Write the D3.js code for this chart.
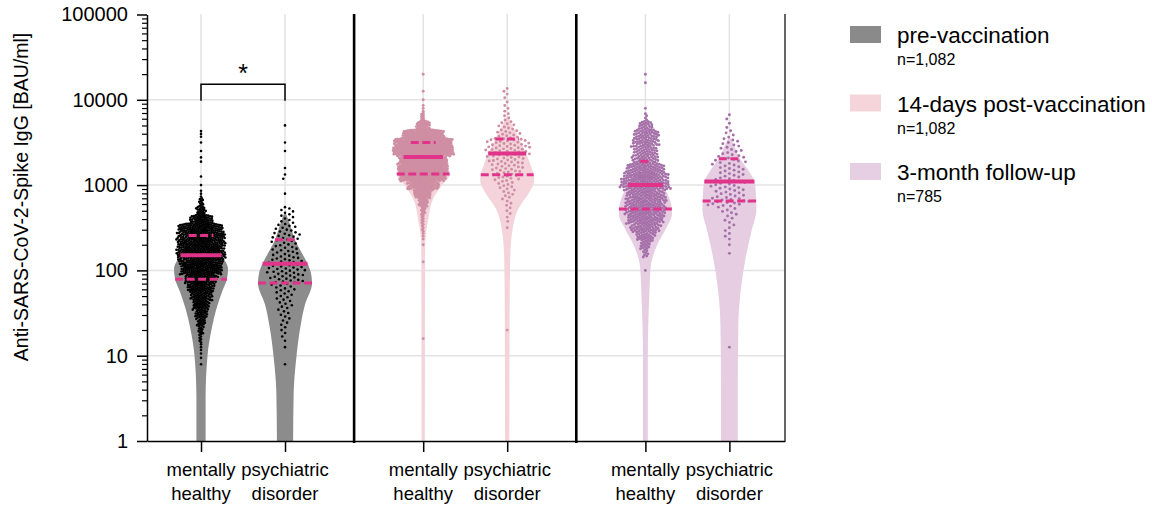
<!DOCTYPE html>
<html>
<head>
<meta charset="utf-8">
<script src="https://cdn.jsdelivr.net/npm/d3@7"></script>
<style>
  body { margin: 0; background: #fff; }
  text { font-family: "Liberation Sans", Arial, sans-serif; }
</style>
</head>
<body>
<svg id="chart"></svg>
<script>
var svgWidth = 1152;
var svgHeight = 505;

// phases and groups
var phases = ["pre-vaccination", "14-days post-vaccination", "3-month follow-up"];
var phaseN = ["n=1,082", "n=1,082", "n=785"];
var groupLines = [["mentally", "healthy"], ["psychiatric", "disorder"]];
var yTicks = [1, 10, 100, 1000, 10000, 100000];

// log10 bin centres (BAU/ml) used to count the dots
var binLogs = [0.9, 1.0, 1.1, 1.2, 1.3, 1.4, 1.5, 1.6, 1.7, 1.8,
               1.9, 2.0, 2.1, 2.2, 2.3, 2.4, 2.5, 2.6, 2.7, 2.8,
               2.9, 3.0, 3.1, 3.2, 3.3, 3.4, 3.5, 3.6, 3.7, 3.8,
               3.9, 4.0, 4.1, 4.2, 4.3];

var preHealthyCounts  = [1,2,3,6,11,18,26,34,44,56, 68,88,92,102,100,100,96,50,20,10, 3,1,1,0,2,1,1,3,0,0, 0,0,0,0,0];
var prePsychCounts    = [1,0,1,2,3,4,5,6,7,9, 14,16,14,11,10,12,9,6,6,0, 1,0,2,1,0,1,1,0,1,0, 0,0,0,0,0];
var postHealthyCounts = [0,0,0,1,0,0,0,0,0,0, 0,0,1,0,1,3,5,6,10,22, 40,71,110,120,118,145,140,100,32,8, 3,1,1,0,1];
var postPsychCounts   = [0,0,0,0,1,0,0,0,0,0, 0,0,0,0,0,0,1,2,3,4, 6,8,12,15,17,22,20,12,8,4, 3,2,3,0,0];
var m3HealthyCounts   = [0,0,0,0,0,0,0,0,0,0, 0,1,0,8,15,28,42,52,58,57, 54,68,66,55,35,34,36,34,20,4, 1,0,0,1,1];
var m3PsychCounts     = [0,0,1,0,0,0,0,0,0,0, 0,0,0,1,1,3,3,4,6,14, 11,12,10,10,11,8,7,4,2,2, 0,0,0,0,0];

// violin outline: [log10 value, relative density 0-100]
var preHealthyViolin  = [[0,17],[0.5,17],[1.0,24],[1.34,41],[1.54,56],[1.75,78],[1.9,96],[2.02,100],[2.18,76],[2.41,46],[2.6,19],[2.75,6],[2.85,0]];
var prePsychViolin    = [[0,30],[0.56,32],[0.95,41],[1.34,57],[1.6,74],[1.85,100],[1.97,96],[2.08,83],[2.2,63],[2.36,37],[2.5,22],[2.62,9],[2.69,0]];
var postHealthyViolin = [[0,6],[2.2,7],[2.35,8],[2.6,19],[2.84,37],[2.99,67],[3.13,98],[3.2,94],[3.33,73],[3.5,46],[3.65,22],[3.8,7],[3.95,0]];
var postPsychViolin   = [[0,8],[1.5,9],[2.13,11],[2.52,22],[2.72,41],[2.91,81],[3.05,100],[3.12,98],[3.25,85],[3.37,70],[3.54,44],[3.68,22],[3.81,0]];
var m3HealthyViolin   = [[0,9],[1.0,9],[1.74,15],[2.05,20],[2.28,41],[2.52,81],[2.65,98],[2.72,98],[2.84,89],[3.0,65],[3.14,37],[3.28,19],[3.5,7],[3.7,0]];
var m3PsychViolin     = [[0,31],[0.56,31],[1.34,33],[1.74,41],[2.13,59],[2.45,81],[2.72,100],[2.81,99],[2.99,96],[3.04,93],[3.19,67],[3.31,39],[3.45,19],[3.58,0]];

// quartiles [Q1, median, Q3] in BAU/ml
var preHealthyQ  = [79, 151, 257];
var prePsychQ    = [71, 120, 229];
var postHealthyQ = [1350, 2140, 3160];
var postPsychQ   = [1320, 2340, 3470];
var m3HealthyQ   = [525, 1000, 1900];
var m3PsychQ     = [650, 1100, 2040];

var groups = [
  {phase: 0, grp: 0, counts: preHealthyCounts,  violin: preHealthyViolin,  q: preHealthyQ},
  {phase: 0, grp: 1, counts: prePsychCounts,    violin: prePsychViolin,    q: prePsychQ},
  {phase: 1, grp: 0, counts: postHealthyCounts, violin: postHealthyViolin, q: postHealthyQ},
  {phase: 1, grp: 1, counts: postPsychCounts,   violin: postPsychViolin,   q: postPsychQ},
  {phase: 2, grp: 0, counts: m3HealthyCounts,   violin: m3HealthyViolin,   q: m3HealthyQ},
  {phase: 2, grp: 1, counts: m3PsychCounts,     violin: m3PsychViolin,     q: m3PsychQ}
];

var violinFill = ["#8c8c8c", "#f4d4da", "#e6cde2"];
var legendFill = ["#8a8a8a", "#f5d5da", "#e6cee3"];
var dotFill = ["#000000", "#cf8ea3", "#a56fa8"];
var lineColor = "#e2338a";
// swarm spacing per group [phase][grp]
var dotSpacing = [[2.0, 4.6], [1.9, 4.3], [2.45, 5.0]];
var dotRadius = [1.3, 1.45, 1.45];

var phaseGap = 2.645;
var slotOf = function(g) { return g.phase * phaseGap + g.grp; };

var svg = d3.select("#chart")
  .attr("width", svgWidth)
  .attr("height", svgHeight);

var x = d3.scaleLinear().domain([-0.643, 6.952]).range([147, 785]);
var y = d3.scaleLog().domain([1, 100000]).range([441, 14.5]);
var w = d3.scaleLinear().domain([0, 100]).range([0, 27]);

// grid
var grid = svg.append("g");
grid.selectAll(".hg").data([10, 100, 1000, 10000]).enter().append("line")
  .attr("x1", 147).attr("x2", 785)
  .attr("y1", d => y(d)).attr("y2", d => y(d))
  .attr("stroke", "#e3e3e3").attr("stroke-width", 1.5);
grid.selectAll(".vg").data(groups).enter().append("line")
  .attr("x1", d => x(slotOf(d))).attr("x2", d => x(slotOf(d)))
  .attr("y1", 14).attr("y2", 441)
  .attr("stroke", "#e3e3e3").attr("stroke-width", 1.5);

// violins
groups.forEach(function(g) {
  var cx = x(slotOf(g));
  var area = d3.area()
    .curve(d3.curveMonotoneY)
    .y(d => y(Math.pow(10, d[0])))
    .x0(d => cx - w(d[1]))
    .x1(d => cx + w(d[1]));
  svg.append("path")
    .datum(g.violin)
    .attr("d", area)
    .attr("fill", violinFill[g.phase]);
});

// beeswarm dots
function swarm(pts, d) {
  var placed = [];
  var lo = 0;
  pts.forEach(function(p, idx) {
    while (lo < placed.length && placed[lo].py < p.py - d) lo++;
    var ivs = [];
    for (var k = lo; k < placed.length; k++) {
      var dy = placed[k].py - p.py;
      var h = d * d - dy * dy;
      if (h <= 0) continue;
      var dx = Math.sqrt(h);
      ivs.push([placed[k].dx - dx, placed[k].dx + dx]);
    }
    var cands = [0];
    ivs.forEach(function(iv) { cands.push(iv[0], iv[1]); });
    var sgn = idx % 2 ? 1 : -1;
    cands.sort(function(a, b) { return Math.abs(a) - Math.abs(b) || sgn * (a - b); });
    var best = 0;
    for (var c = 0; c < cands.length; c++) {
      var v = cands[c];
      var ok = ivs.every(function(iv) { return v <= iv[0] + 1e-6 || v >= iv[1] - 1e-6; });
      if (ok) { best = v; break; }
    }
    p.dx = best;
    placed.push(p);
  });
  return pts;
}

groups.forEach(function(g) {
  var pts = [];
  g.counts.forEach(function(n, i) {
    for (var k = 0; k < n; k++) {
      var lv = binLogs[i] - 0.05 + (k + 0.5) / n * 0.1;
      pts.push({value: Math.pow(10, lv)});
    }
  });
  pts.forEach(p => { p.py = y(p.value); });
  pts.sort((a, b) => a.py - b.py);
  swarm(pts, dotSpacing[g.phase][g.grp]);
  var cx = x(slotOf(g));
  svg.append("g").selectAll("circle").data(pts).enter().append("circle")
    .attr("cx", d => cx + d.dx)
    .attr("cy", d => d.py)
    .attr("r", dotRadius[g.phase])
    .attr("fill", dotFill[g.phase]);
});

// median and quartile lines
groups.forEach(function(g) {
  var cx = x(slotOf(g));
  var dens = d3.scaleLinear()
    .domain(g.violin.map(d => d[0]))
    .range(g.violin.map(d => d[1]))
    .clamp(true);
  g.q.forEach(function(v, i) {
    var hw = w(dens(Math.log10(v)));
    svg.append("line")
      .attr("x1", cx - hw).attr("x2", cx + hw)
      .attr("y1", y(v)).attr("y2", y(v))
      .attr("stroke", lineColor)
      .attr("stroke-width", i === 1 ? 4 : 3)
      .attr("stroke-dasharray", i === 1 ? null : "8,3.5");
  });
});

// axes
var leftAxis = d3.axisLeft(y)
  .tickValues(yTicks)
  .tickFormat(d3.format("d"))
  .tickSize(10)
  .tickSizeOuter(0)
  .tickPadding(9);
var yAxisG = svg.append("g").attr("transform", "translate(147,0)").call(leftAxis);
yAxisG.selectAll("text").attr("font-size", 20).attr("fill", "#000")
  .attr("font-family", "Liberation Sans, Arial, sans-serif");
yAxisG.selectAll("path, line").attr("stroke", "#000").attr("stroke-width", 1.5);

var minorTicks = [];
yTicks.slice(0, -1).forEach(function(t) {
  for (var m = 2; m <= 9; m++) minorTicks.push(t * m);
});
var minorAxis = d3.axisLeft(y).tickValues(minorTicks).tickFormat("").tickSize(5).tickSizeOuter(0);
var minorG = svg.append("g").attr("transform", "translate(147,0)").call(minorAxis);
minorG.select(".domain").remove();
minorG.selectAll("line").attr("stroke", "#000").attr("stroke-width", 1.2);

var bottomAxis = d3.axisBottom(x)
  .tickValues(groups.map(slotOf))
  .tickFormat("")
  .tickSize(11)
  .tickSizeOuter(0);
var xAxisG = svg.append("g").attr("transform", "translate(0,441)").call(bottomAxis);
xAxisG.selectAll("path, line").attr("stroke", "#000").attr("stroke-width", 1.5);

// panel separators and right border
[(1 + phaseGap) / 2, (1 + phaseGap) / 2 + phaseGap].forEach(function(s) {
  svg.append("line")
    .attr("x1", x(s)).attr("x2", x(s))
    .attr("y1", 14).attr("y2", 443)
    .attr("stroke", "#000").attr("stroke-width", 2.6);
});
svg.append("line")
  .attr("x1", 785).attr("x2", 785)
  .attr("y1", 14).attr("y2", 441)
  .attr("stroke", "#333").attr("stroke-width", 1.5);

// category labels
groups.forEach(function(g) {
  var t = svg.append("text")
    .attr("x", x(slotOf(g)))
    .attr("y", 476)
    .attr("text-anchor", "middle")
    .attr("font-size", 18.5)
    .attr("fill", "#000");
  t.append("tspan").attr("x", x(slotOf(g))).text(groupLines[g.grp][0]);
  t.append("tspan").attr("x", x(slotOf(g))).attr("dy", 24).text(groupLines[g.grp][1]);
});

// y title
svg.append("text")
  .attr("transform", "translate(28,197) rotate(-90)")
  .attr("text-anchor", "middle")
  .attr("font-size", 19.5)
  .text("Anti-SARS-CoV-2-Spike IgG [BAU/ml]");

// significance bracket
svg.append("path")
  .attr("d", `M${x(0)},100.7 V84.3 H${x(1)} V100.7`)
  .attr("fill", "none")
  .attr("stroke", "#000")
  .attr("stroke-width", 1.5);
svg.append("text")
  .attr("x", (x(0) + x(1)) / 2)
  .attr("y", 82)
  .attr("text-anchor", "middle")
  .attr("font-size", 25)
  .text("*");

// legend
var legend = svg.append("g");
phases.forEach(function(p, i) {
  var top = 26 + i * 68.5;
  legend.append("rect")
    .attr("x", 850).attr("y", top)
    .attr("width", 31).attr("height", 17)
    .attr("fill", legendFill[i]);
  legend.append("text")
    .attr("x", 897).attr("y", top + 17)
    .attr("font-size", 22.5)
    .text(p);
  legend.append("text")
    .attr("x", 897).attr("y", top + 39)
    .attr("font-size", 16)
    .text(phaseN[i]);
});
</script>
</body>
</html>
